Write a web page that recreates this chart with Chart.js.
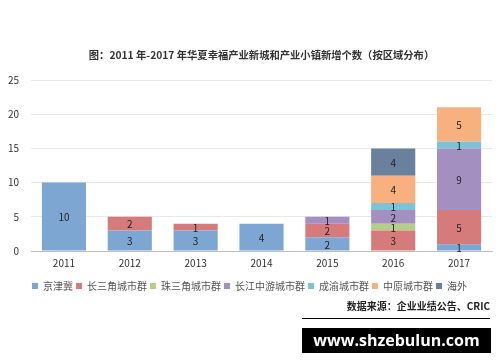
<!DOCTYPE html>
<html lang="zh-CN">
<head>
<meta charset="UTF-8" />
<title>华夏幸福产业新城和产业小镇新增个数</title>
<script src="https://cdn.jsdelivr.net/npm/chart.js"></script>
<style>
    body { margin: 0; background: #fff; font-family: "Noto Sans CJK SC", sans-serif; }
    .wrap { position: relative; width: 500px; height: 362px; }
    .chart-box { position: absolute; left: 0; top: 0; width: 500px; height: 307px; }
    .source {
        position: absolute; left: 302px; width: 188px; top: 298px;
        font-size: 10px; font-weight: bold; color: #222; text-align: right;
        border-bottom: 1px solid #000; padding-bottom: 5px;
    }
    .mark {
        position: absolute; left: 302px; top: 328px; width: 189px; height: 25px;
        background: #000; color: #fff; font-family: "Open Sans", sans-serif;
        font-weight: bold; font-size: 16px; line-height: 25px; text-align: center;
        overflow: hidden; white-space: nowrap;
    }
</style>
</head>
<body>
<div class="wrap">
    <div class="chart-box"><canvas id="chart"></canvas></div>
    <div class="source">数据来源：企业业绩公告、CRIC</div>
    <div class="mark">www.shzebulun.com</div>
</div>
<script>
    const chartTitle = "图：2011 年-2017 年华夏幸福产业新城和产业小镇新增个数（按区域分布）";
    const years = ["2011", "2012", "2013", "2014", "2015", "2016", "2017"];
    const jingjinji = [10, 3, 3, 4, 2, 0, 1];
    const changsanjiao = [0, 2, 1, 0, 2, 3, 5];
    const zhusanjiao = [0, 0, 0, 0, 0, 1, 0];
    const changjiang = [0, 0, 0, 0, 1, 2, 9];
    const chengyu = [0, 0, 0, 0, 0, 1, 1];
    const zhongyuan = [0, 0, 0, 0, 0, 4, 5];
    const haiwai = [0, 0, 0, 0, 0, 4, 0];
    const yTicks = [0, 5, 10, 15, 20, 25];

    const FONT = "'Noto Sans CJK SC', sans-serif";

    // numbers in the middle of each segment + title centred over the plot
    const segmentLabels = {
        id: "segmentLabels",
        afterDatasetsDraw(chart) {
            const ctx = chart.ctx;
            const area = chart.chartArea;
            ctx.save();
            ctx.font = "10px " + FONT;
            ctx.fillStyle = "#222";
            ctx.textAlign = "center";
            ctx.textBaseline = "middle";
            chart.data.datasets.forEach((ds, i) => {
                chart.getDatasetMeta(i).data.forEach((bar, j) => {
                    const v = ds.data[j];
                    if (!v) return;
                    ctx.fillText(String(v), bar.x, (bar.y + bar.base) / 2 + 1);
                });
            });
            ctx.font = "bold 10.3px " + FONT;
            ctx.fillStyle = "#333";
            ctx.fillText(chartTitle, (area.left + area.right) / 2, area.top - 25);
            ctx.restore();
        }
    };

    const series = [
        ["京津冀", jingjinji, "#7ea6d3"],
        ["长三角城市群", changsanjiao, "#d67b7b"],
        ["珠三角城市群", zhusanjiao, "#b5cf86"],
        ["长江中游城市群", changjiang, "#a38fc0"],
        ["成渝城市群", chengyu, "#7cc3d6"],
        ["中原城市群", zhongyuan, "#f8b07e"],
        ["海外", haiwai, "#6a819e"]
    ];

    new Chart(document.getElementById("chart"), {
        type: "bar",
        data: {
            labels: years,
            datasets: series.map(([name, values, color]) => ({
                label: name,
                data: values,
                backgroundColor: color,
                borderWidth: 0,
                barPercentage: 0.67,
                categoryPercentage: 1
            }))
        },
        options: {
            responsive: true,
            maintainAspectRatio: false,
            animation: false,
            layout: { padding: { left: 7, right: 8, top: 80, bottom: 6 } },
            scales: {
                x: {
                    stacked: true,
                    grid: { display: false, drawTicks: false },
                    border: { color: "#bfbfbf" },
                    afterFit: (axis) => { axis.height += 3; },
                    ticks: { color: "#333", padding: 6, font: { size: 10, family: FONT } }
                },
                y: {
                    stacked: true,
                    min: 0,
                    max: 25,
                    afterBuildTicks: (axis) => { axis.ticks = yTicks.map((v) => ({ value: v })); },
                    afterFit: (axis) => { axis.width = 24; },
                    grid: { color: "#e8e8e8", drawTicks: false },
                    border: { display: false },
                    ticks: { color: "#333", padding: 12, font: { size: 10, family: FONT } }
                }
            },
            plugins: {
                title: { display: false },
                legend: {
                    position: "bottom",
                    labels: {
                        boxWidth: 6,
                        boxHeight: 6,
                        padding: 3,
                        color: "#555",
                        font: { size: 10, family: FONT }
                    }
                },
                tooltip: { enabled: false }
            }
        },
        plugins: [segmentLabels]
    });
</script>
</body>
</html>
